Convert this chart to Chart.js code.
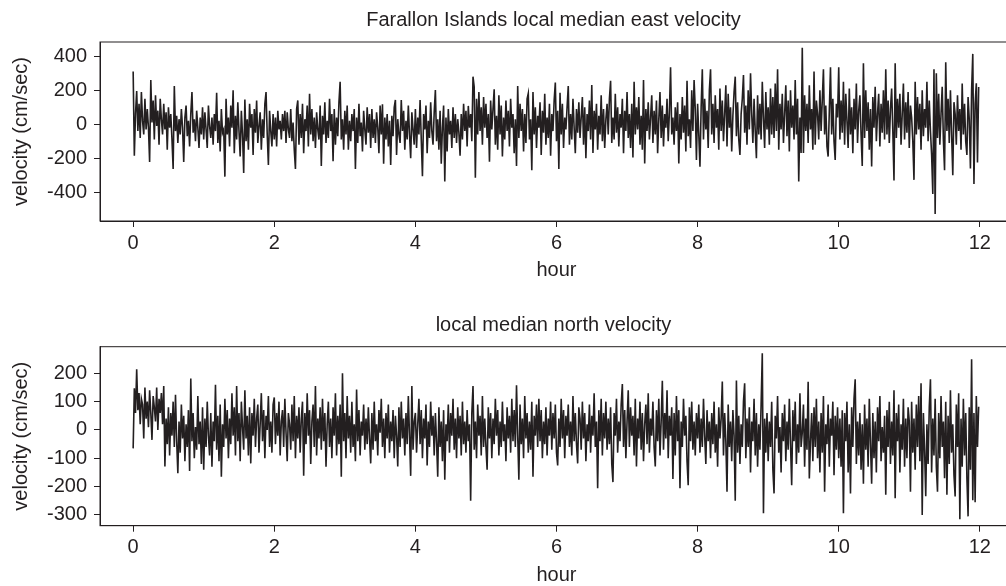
<!DOCTYPE html>
<html>
<head>
<meta charset="utf-8">
<script src="https://cdn.jsdelivr.net/npm/chart.js@4"></script>
<style>
  html, body { margin: 0; padding: 0; background: #fff; overflow: hidden; width: 1006px; height: 586px; }
  .panel { position: absolute; left: 0; }
  #east-wrap { top: 0; }
  #north-wrap { top: 293px; }
</style>
</head>
<body>
<div class="panel" id="east-wrap"><canvas id="east-chart" width="1107" height="293"></canvas></div>
<div class="panel" id="north-wrap"><canvas id="north-chart" width="1107" height="300"></canvas></div>
<script>
// one sample per minute, starting at hour 0
const sampleMinutes = 1;

const hourTicks = [0, 2, 4, 6, 8, 10, 12];
const eastTicks = [-400, -200, 0, 200, 400];
const northTicks = [-300, -200, -100, 0, 100, 200];

// east velocity (cm/sec)
const eastVelocity = [
  310,-185,60,195,-40,120,-80,190,20,-60,150,-30,90,-20,-222,260,10,140,-90,170,
  -10,80,-120,150,30,-60,120,-30,70,-150,100,-20,60,-90,-263,225,-40,50,-110,30,
  -60,90,-20,-222,40,110,-70,20,-130,60,190,-50,30,-100,80,-20,-140,40,-60,100,
  -90,70,-30,-140,110,-10,-80,40,-120,60,-40,186,-110,20,-160,90,-50,-30,-308,150,
  -60,40,-130,110,-20,200,-170,50,-90,130,-40,-190,80,-60,-287,145,-100,30,-150,120,
  -20,60,-180,90,-50,140,-110,-10,70,-150,30,-80,120,190,-60,-240,80,-40,-130,60,
  -90,40,-130,80,-30,20,-90,60,-40,80,-110,70,-30,-80,90,-100,10,-150,-263,90,
  140,-120,60,-80,120,-170,30,-40,110,-130,180,-60,90,-100,40,-140,70,-30,-90,110,
  -245,50,-60,130,-110,20,-80,150,-40,60,-218,90,-120,40,-70,130,250,-90,30,-150,
  80,-60,110,-150,20,-100,60,-40,90,-263,40,-110,120,-70,10,-160,80,-30,-120,100,
  -50,60,-140,90,-80,30,-110,70,-20,-170,110,-60,118,-232,40,-90,60,-130,20,-240,
  50,-70,100,143,-180,30,-60,-110,143,-40,80,-150,20,-90,110,-60,-200,70,-30,-120,
  90,-140,40,-60,143,-90,-305,60,-30,110,-170,20,-80,130,-40,-120,70,202,-100,30,
  -150,80,-232,-20,110,-337,40,-160,90,-60,20,-140,100,-80,60,-110,30,-50,-185,60,
  -90,120,-40,80,-130,108,-20,60,-100,280,220,-315,150,-60,190,-40,100,-120,160,-20,
  120,-80,60,-220,140,-30,90,206,-120,50,-150,170,-60,110,-190,40,-90,140,-40,80,
  -130,150,-20,60,-170,30,-245,225,-80,120,-40,90,-160,60,-110,150,182,-90,30,-270,
  190,-60,100,-140,50,-20,130,-180,80,-50,180,-120,40,-80,120,-185,60,-40,140,245,
  -100,80,-263,185,-60,120,-140,40,-30,100,225,-120,60,-90,150,-20,-170,90,-50,130,
  -80,40,160,-120,100,-200,60,-40,140,-90,231,-169,80,-30,120,-150,50,-60,170,-100,
  90,-140,30,120,-60,150,256,-110,40,-90,180,-50,100,-130,60,-20,150,-170,80,-40,
  190,-80,60,-140,120,-195,250,-60,100,-30,160,-120,50,-150,260,-230,90,-40,130,-90,
  40,170,-110,80,-60,140,-170,30,190,-80,110,-130,60,-20,150,-100,70,335,-60,40,
  -120,100,-40,130,-230,60,-90,160,-50,110,-160,256,-70,30,-140,200,-40,260,90,-210,
  120,-60,-250,100,323,-90,150,-30,80,-140,200,323,-60,120,-110,170,-20,90,-150,210,
  -40,140,-100,60,230,-130,180,-20,100,-160,50,190,280,-70,130,-90,-180,60,150,290,
  -50,110,-120,200,-30,300,60,-110,150,-40,-200,170,-60,120,-90,250,40,-140,190,-30,
  100,-120,210,-60,160,-80,240,-40,323,-150,120,-30,180,-110,60,230,-70,140,-160,200,
  -20,110,-90,260,-60,150,-337,40,-169,450,-169,170,-40,120,-110,230,-30,90,-150,310,
  -120,140,60,-90,200,-40,140,323,-60,110,-130,-190,80,335,-60,150,-100,-210,120,40,
  335,-90,140,-50,250,-120,180,20,-140,210,-60,100,-170,150,-30,240,-110,80,170,-60,
  -245,359,-80,200,-40,130,-150,90,-249,160,-20,220,-100,60,180,-130,120,-50,200,-90,
  323,-60,140,-110,90,210,-40,-330,359,-80,150,-20,180,-120,60,240,-90,130,-50,190,
  -140,110,40,-100,-327,250,-60,160,-30,120,-150,200,-70,90,-20,250,-100,140,-40,-180,
  -410,323,-528,300,-80,180,-120,60,220,-90,-270,365,-40,150,-110,200,-60,-300,130,60,
  -120,170,-40,90,-150,240,-60,120,-100,-180,160,30,-260,200,414,-351,120,241,-225,219
];

// north velocity (cm/sec)
const northVelocity = [
  -65,147,60,214,70,130,20,110,90,-30,150,40,100,10,140,60,-35,120,80,30,
  150,0,110,60,130,20,155,-129,40,-50,80,-90,60,-20,100,-60,124,-40,-153,30,
  -80,90,-30,50,-110,20,-60,70,-145,182,-40,60,-100,10,-70,120,-50,30,-120,80,
  -140,40,-60,100,-20,-90,60,-130,30,-40,160,-70,50,-110,90,-165,20,-60,110,-30,
  70,-100,40,-50,130,-20,80,-90,155,-40,60,-110,100,10,-70,140,-30,50,-90,80,
  -118,60,-20,110,-60,40,90,-80,20,130,-40,70,-100,50,0,120,-60,30,-80,90,
  115,-50,60,-20,100,-90,30,70,-60,110,-10,-110,60,20,-70,90,-40,120,-100,50,
  -30,80,-80,40,100,-162,60,-50,130,-20,70,-120,30,90,-60,155,-90,40,-30,80,
  -70,110,-40,60,-130,20,100,-60,40,-100,80,-20,130,-90,50,-50,90,-165,200,-40,
  60,-100,120,-30,50,-80,100,-60,20,-110,143,-40,70,-90,30,-20,90,-70,40,-50,
  80,-30,-118,60,-70,100,-40,20,-90,70,-10,110,-60,40,-100,60,-30,90,-80,30,
  -40,70,-100,50,-20,-129,80,-60,100,-30,40,-90,60,-50,120,-20,-162,155,-70,30,
  60,-80,20,110,-50,70,-100,40,-30,90,-125,30,-60,100,-20,50,-90,60,-40,-165,
  80,-60,30,-110,70,-176,20,-40,90,-80,60,-20,110,-70,40,-100,80,-30,50,-90,
  100,-50,30,-80,70,-40,20,-250,60,155,-70,30,-100,90,-20,50,-90,120,-60,40,
  -60,-140,80,-30,60,-100,40,-50,110,-20,70,-90,30,-60,100,-40,20,-110,80,-30,
  50,-80,110,-40,70,-60,158,-20,-176,90,-50,40,-100,120,-30,60,-80,30,-70,100,
  -165,50,-20,90,-60,110,-40,70,-100,30,-50,80,-90,40,-20,100,-70,60,-30,90,
  -80,-125,40,-60,110,-30,70,-100,50,-20,90,-60,30,-90,120,-40,60,-50,-118,80,
  40,-70,100,-30,60,-110,20,-40,90,-80,50,-20,130,-60,30,-206,70,-40,110,-90,
  60,-30,100,-70,40,-50,80,-120,-184,60,-20,110,-80,30,-40,90,162,-60,70,-100,
  30,140,-60,80,-20,50,-90,110,-129,40,-30,100,-70,60,-110,20,90,-50,130,-80,
  40,-20,100,-60,-129,70,-40,110,-90,30,174,-70,60,-30,140,-100,50,-20,80,-173,
  60,-90,120,-40,70,-206,30,-60,110,-20,50,-110,-195,80,-40,100,-70,30,-90,60,
  -30,90,-80,40,-60,110,-20,-120,70,-40,30,-100,60,-50,100,-80,20,-130,80,-30,
  40,171,-90,60,-40,-218,90,-60,30,-110,70,-20,-250,175,-80,50,-120,20,-60,100,
  165,-100,40,-60,80,-150,30,-40,110,-90,60,-130,20,-70,90,271,-294,40,-80,60,
  -110,30,-60,100,-140,-224,50,-30,120,-80,10,-150,60,-40,90,-110,30,-70,110,-50,
  -195,70,-40,100,-120,20,-80,130,-60,-10,90,-130,40,-70,170,-171,-40,60,-110,80,
  -60,110,-100,30,-150,60,-80,120,-218,20,-50,90,-130,40,-20,100,-160,50,-70,80,
  -100,40,-130,70,-294,60,-40,100,-150,20,-224,80,-60,110,179,-120,30,-90,60,-140,
  20,-190,90,-70,40,-130,110,-50,-190,60,-100,30,-150,80,-40,120,-110,10,-80,50,
  -229,70,-60,100,-120,30,-90,140,-241,60,-40,90,-150,20,-70,110,-130,40,-100,80,
  30,-218,100,-80,40,-140,90,-60,120,-110,165,-300,60,-70,-234,20,-120,80,179,-150,
  40,-90,110,-130,-218,60,-100,120,-60,30,-170,100,-229,50,-120,140,-80,20,-160,-235,
  90,-60,130,-315,40,-130,110,-90,60,-170,-305,80,-140,250,-248,60,-255,120,-60,82
];

const ink = "#231f20";
const fontSpec = { family: "'Liberation Sans', Arial, Helvetica, sans-serif", size: 20, weight: "normal" };

function toPoints(values) {
  return values.map((v, i) => ({ x: (i * sampleMinutes) / 60, y: v }));
}

// draws the plot box (top/right edges; bottom/left come from the axis borders)
const boxPlugin = {
  id: "box",
  afterDraw(chart) {
    const { ctx, chartArea } = chart;
    ctx.save();
    ctx.strokeStyle = ink;
    ctx.lineWidth = 1;
    ctx.strokeRect(chartArea.left, chartArea.top, chartArea.right - chartArea.left, chartArea.bottom - chartArea.top);
    ctx.restore();
  }
};

function makePanel(canvasId, titleText, values, yTicks, yMin, yMax, titlePad, xAxisHeight, hourPadBottom) {
  const ctx = document.getElementById(canvasId).getContext("2d");
  return new Chart(ctx, {
    type: "line",
    data: {
      datasets: [{
        data: toPoints(values),
        borderColor: ink,
        borderWidth: 1.6,
        pointRadius: 0,
        tension: 0,
        fill: false
      }]
    },
    options: {
      responsive: false,
      animation: false,
      layout: { padding: 0 },
      plugins: {
        legend: { display: false },
        tooltip: { enabled: false },
        title: {
          display: true,
          text: titleText,
          color: ink,
          font: fontSpec,
          padding: titlePad
        }
      },
      scales: {
        x: {
          type: "linear",
          min: -0.47,
          max: 12.47,
          afterBuildTicks: s => { s.ticks = hourTicks.map(v => ({ value: v })); },
          afterFit: s => { s.height = xAxisHeight; },
          grid: { drawOnChartArea: false, drawTicks: true, tickLength: 6, color: ink },
          border: { display: true, color: ink, width: 1 },
          ticks: { color: ink, font: fontSpec, padding: 4, maxRotation: 0, autoSkip: false },
          title: { display: true, text: "hour", color: ink, font: fontSpec, padding: { top: 0, bottom: hourPadBottom } }
        },
        y: {
          min: yMin,
          max: yMax,
          afterBuildTicks: s => { s.ticks = yTicks.map(v => ({ value: v })); },
          afterFit: s => { s.width = 100; },
          grid: { drawOnChartArea: false, drawTicks: true, tickLength: 6, color: ink },
          border: { display: true, color: ink, width: 1 },
          ticks: { color: ink, font: fontSpec, padding: 7, autoSkip: false },
          title: { display: true, text: "velocity (cm/sec)", color: ink, font: fontSpec, padding: { top: 9.5, bottom: 0 } }
        },
        // empty right margin so the title centres where the original does
        yRight: {
          position: "right",
          min: yMin,
          max: yMax,
          afterFit: s => { s.width = 94; },
          grid: { display: false },
          border: { display: false },
          ticks: { display: false }
        }
      }
    },
    plugins: [boxPlugin]
  });
}

makePanel("east-chart", "Farallon Islands local median east velocity", eastVelocity, eastTicks,
  -569, 484, { top: 8.7, bottom: 9.3 }, 72, 10.3);
makePanel("north-chart", "local median north velocity", northVelocity, northTicks,
  -338, 294, { top: 20.7, bottom: 9 }, 67.3, 5.3);
</script>
</body>
</html>
